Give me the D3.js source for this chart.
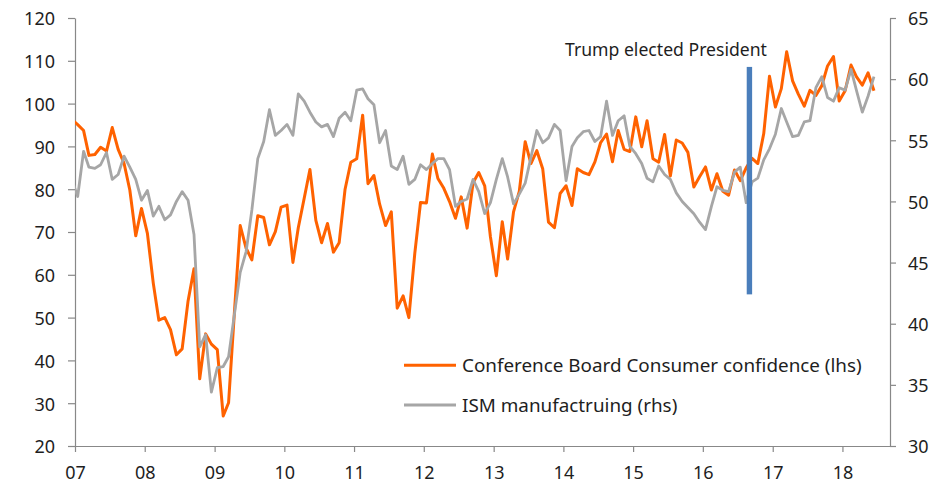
<!DOCTYPE html>
<html><head><meta charset="utf-8">
<script src="https://cdn.jsdelivr.net/npm/d3@7"></script>
<style>
html,body{margin:0;padding:0;background:#fff;}
svg{display:block;font-family:"Noto Sans","Open Sans",sans-serif;}
</style></head><body>
<svg id="chart" width="952" height="491"></svg>
<script>
// ---- data (monthly, first month below) ----
const firstMonth = "2006-12";
const confidence = [96.3,
  95.1, 93.7, 87.9, 88.1, 89.8, 88.9, 94.4, 89.3, 86.0, 79.8, 69.1, 75.5,
  69.7, 58.0, 49.4, 50.0, 47.2, 41.3, 42.7, 53.9, 61.4, 35.7, 46.2, 43.8,
  42.5, 27.0, 30.1, 51.5, 71.5, 66.2, 63.5, 73.8, 73.4, 67.0, 70.1, 75.8,
  76.3, 62.9, 71.0, 77.9, 84.6, 72.7, 67.5, 72.0, 65.3, 67.5, 80.0, 86.3,
  87.1, 97.3, 81.3, 83.2, 76.5, 71.5, 74.7, 52.2, 55.1, 50.0, 65.0, 76.9,
  76.8, 88.2, 82.5, 80.2, 77.1, 73.2, 78.2, 70.9, 81.5, 83.9, 80.8, 68.9,
  59.8, 72.4, 63.7, 74.7, 79.5, 91.1, 86.0, 89.0, 84.7, 72.3, 71.0, 79.0,
  80.8, 76.2, 84.8, 83.9, 83.4, 86.4, 90.9, 92.9, 86.4, 93.7, 89.3, 88.8,
  96.9, 89.9, 96.0, 87.1, 86.3, 92.8, 83.1, 91.5, 90.8, 88.6, 80.5, 82.9,
  85.2, 79.8, 83.6, 79.5, 78.6, 84.5, 82.0, 85.0, 87.2, 86.0, 93.0, 106.4,
  99.2, 103.5, 112.1, 105.3, 102.2, 99.4, 103.1, 101.9, 104.2, 108.8, 111.0, 100.6,
  103.0, 109.0, 106.3, 104.3, 107.2, 103.0];
const ism = [51.8,
  50.4, 54.1, 52.8, 52.7, 53.0, 54.0, 51.8, 52.2, 53.7, 52.8, 51.8, 50.1,
  50.9, 48.8, 49.6, 48.5, 48.9, 50.0, 50.8, 50.1, 47.3, 38.1, 39.1, 34.4,
  36.4, 36.5, 37.3, 40.8, 44.2, 45.9, 49.3, 53.5, 54.9, 57.5, 55.4, 55.8,
  56.3, 55.4, 58.8, 58.2, 57.3, 56.5, 56.1, 56.3, 55.3, 56.8, 57.3, 56.6,
  59.1, 59.2, 58.4, 57.9, 54.8, 55.8, 52.9, 52.6, 53.7, 51.4, 51.8, 53.0,
  52.6, 53.1, 53.5, 53.5, 52.6, 49.6, 50.0, 50.2, 51.8, 50.8, 49.0, 49.9,
  51.8, 53.5, 52.0, 49.8, 50.6, 51.5, 53.6, 55.8, 54.8, 55.2, 56.3, 55.8,
  51.7, 54.5, 55.2, 55.7, 55.8, 54.9, 55.3, 58.2, 55.4, 56.6, 57.0, 54.5,
  53.9, 53.1, 51.9, 51.6, 52.9, 52.2, 51.8, 50.7, 50.0, 49.5, 49.0, 48.3,
  47.7, 49.6, 51.2, 50.9, 50.8, 52.4, 52.8, 49.9, 51.6, 51.9, 53.4, 54.3,
  55.5, 57.6, 56.5, 55.3, 55.4, 56.5, 56.6, 59.3, 60.2, 58.5, 58.2, 59.3,
  59.1, 60.8, 59.1, 57.3, 58.6, 60.2];
const leftTicks = [20, 30, 40, 50, 60, 70, 80, 90, 100, 110, 120];
const rightTicks = [30, 35, 40, 45, 50, 55, 60, 65];
const yearLabels = ["07","08","09","10","11","12","13","14","15","16","17","18"];
const seriesNames = ["Conference Board Consumer confidence (lhs)", "ISM manufactruing (rhs)"];
const seriesColors = ["#ff6200", "#a6a6a6"];
const markerLabel = "Trump elected President";
const markerDate = "2016-09-01";
const markerRange = [42.4, 61.0]; // in rhs units

// ---- layout ----
const L = 75, R = 890, T = 18, B = 446;
const svg = d3.select("#chart");
const parseM = d3.timeParse("%Y-%m");
const parseD = d3.timeParse("%Y-%m-%d");
const start = parseM(firstMonth);
const months = d3.range(confidence.length).map(i => d3.timeDay.offset(d3.timeMonth.offset(start, i), 14));

const x = d3.scaleTime().domain([new Date(2007,0,1), new Date(2018,8,7)]).range([L, R]);
const yL = d3.scaleLinear().domain([20,120]).range([B, T]);
const yR = d3.scaleLinear().domain([30,65]).range([B, T]);

svg.append("defs").append("clipPath").attr("id","clip")
  .append("rect").attr("x", L).attr("y", 0).attr("width", R - L).attr("height", B);

const axisColor = "#888";
const textColor = "#1e1e1e";

// axes
const gL = svg.append("g").attr("transform", `translate(${L},0)`)
  .call(d3.axisLeft(yL).tickValues(leftTicks).tickSize(7).tickSizeOuter(0).tickPadding(13));
const gR = svg.append("g").attr("transform", `translate(${R},0)`)
  .call(d3.axisRight(yR).tickValues(rightTicks).tickSize(6).tickSizeOuter(0).tickPadding(12));
const yearDates = yearLabels.map(s => new Date(2000 + (+s), 0, 1));
const gX = svg.append("g").attr("transform", `translate(0,${B})`)
  .call(d3.axisBottom(x).tickValues(yearDates).tickFormat((d,i) => yearLabels[i]).tickSize(6).tickSizeOuter(0).tickPadding(14));

[gL, gR, gX].forEach(g => {
  g.selectAll(".domain").attr("stroke", axisColor).attr("stroke-width", 1.2);
  g.selectAll(".tick line").attr("stroke", axisColor).attr("stroke-width", 1.2);
  g.selectAll(".tick text").attr("fill", textColor).attr("font-size", 18)
    .attr("font-family", '"Noto Sans","Open Sans",sans-serif');
});
gL.selectAll(".tick text").attr("dy", "0.38em");
gR.selectAll(".tick text").attr("dy", "0.38em");
gX.selectAll(".tick text").attr("dy", "0.71em");

// lines
const plot = svg.append("g").attr("clip-path", "url(#clip)");
const lineL = d3.line().x((d,i) => x(months[i])).y(d => yL(d));
const lineR = d3.line().x((d,i) => x(months[i])).y(d => yR(d));
plot.append("path").datum(confidence).attr("d", lineL)
  .attr("fill","none").attr("stroke", seriesColors[0]).attr("stroke-width", 3).attr("stroke-linejoin","round");
plot.append("path").datum(ism).attr("d", lineR)
  .attr("fill","none").attr("stroke", seriesColors[1]).attr("stroke-width", 2.8).attr("stroke-linejoin","round");

// marker bar
const mx = x(parseD(markerDate));
svg.append("rect").attr("x", mx - 2.7).attr("width", 5.4)
  .attr("y", yR(markerRange[1])).attr("height", yR(markerRange[0]) - yR(markerRange[1]))
  .attr("fill", "#4a7ebb");

function fit(sel, target) {
  const w = sel.node().getComputedTextLength();
  const fs = parseFloat(sel.attr("font-size"));
  const nf = fs * target / w;
  sel.attr("font-size", nf);
  return nf;
}

const ann = svg.append("text").attr("x", 565).attr("y", 56).attr("font-size", 17)
  .attr("fill", textColor).text(markerLabel);
fit(ann, 202);

// legend
const legY = [365.3, 405];
const legText = [];
seriesNames.forEach((name, i) => {
  svg.append("line").attr("x1", 404).attr("x2", 456).attr("y1", legY[i]).attr("y2", legY[i])
    .attr("stroke", seriesColors[i]).attr("stroke-width", 3);
  legText.push(svg.append("text").attr("x", 462).attr("y", legY[i] + 7).attr("font-size", 18)
    .attr("fill", textColor).text(name));
});
const lf = fit(legText[0], 400);
legText[1].attr("font-size", lf);
</script>
</body></html>
